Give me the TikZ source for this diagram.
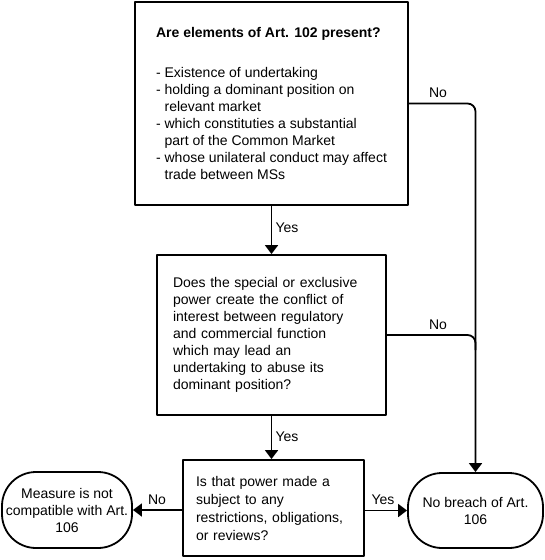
\documentclass[tikz,border=0pt]{standalone}
\usepackage{fontspec}
\setmainfont{Liberation Sans}
\usetikzlibrary{arrows.meta}
\begin{document}
\begin{tikzpicture}[x=1pt,y=-1pt,>={Triangle[width=13pt,length=9pt]},line join=round,line width=1.8pt,
		font=\fontsize{14}{17}\selectfont,
		box/.style={draw,inner sep=0pt,align=left},
		term/.style={draw,rounded corners=34pt,inner sep=0pt,align=center}]
	\useasboundingbox (0,0) rectangle (545,560);
	\node[box,minimum width=273pt,minimum height=203pt] (A) at (271.5,103.5) {\textbf{Are elements of Art. 102 present?}\\[23pt]
		- Existence of undertaking\\
		- holding a dominant position on\\
		\phantom{- }relevant market\\
		- which constituties a substantial\\
		\phantom{- }part of the Common Market\\
		- whose unilateral conduct may affect\\
		\phantom{- }trade between MSs};
	\node[box,minimum width=229pt,minimum height=160pt,text width=197pt] (B) at (271.5,335) {Does the special or exclusive\\
		power create the conflict of\\
		interest between regulatory\\
		and commercial function\\
		which may lead an\\
		undertaking to abuse its\\
		dominant position?};
	\node[box,minimum width=181pt,minimum height=96pt,text width=155pt,font=\fontsize{14}{18}\selectfont] (C) at (273.5,508) {Is that power made a\\
		subject to any\\
		restrictions, obligations,\\
		or reviews?};
	\node[term,minimum width=130pt,minimum height=76pt] (L) at (67,510) {Measure is not\\compatible with Art.\\106};
	\node[term,minimum width=135pt,minimum height=75pt] (R) at (475.5,510.5) {No breach of Art.\\106};
	\coordinate (P) at (475.5,350);
	\draw[->] (A.south) -- (B.north);
	\draw[->] (B.south) -- (B.south |- C.north);
	\draw[->] (C.west |- L.east) -- (L.east);
	\draw[->] (C.east |- R.west) -- (R.west);
	\draw[->,rounded corners=8pt] (A.east) -| (R.north);
	\draw[rounded corners=8pt] (B.east) -| (P);
	\node (Y1) at (287,228) {Yes};
	\node (Y2) at (287,437) {Yes};
	\node (Y3) at (383,500) {Yes};
	\node (N1) at (438,93) {No};
	\node (N2) at (438,325) {No};
	\node (N3) at (157,500) {No};
\end{tikzpicture}
\end{document}
